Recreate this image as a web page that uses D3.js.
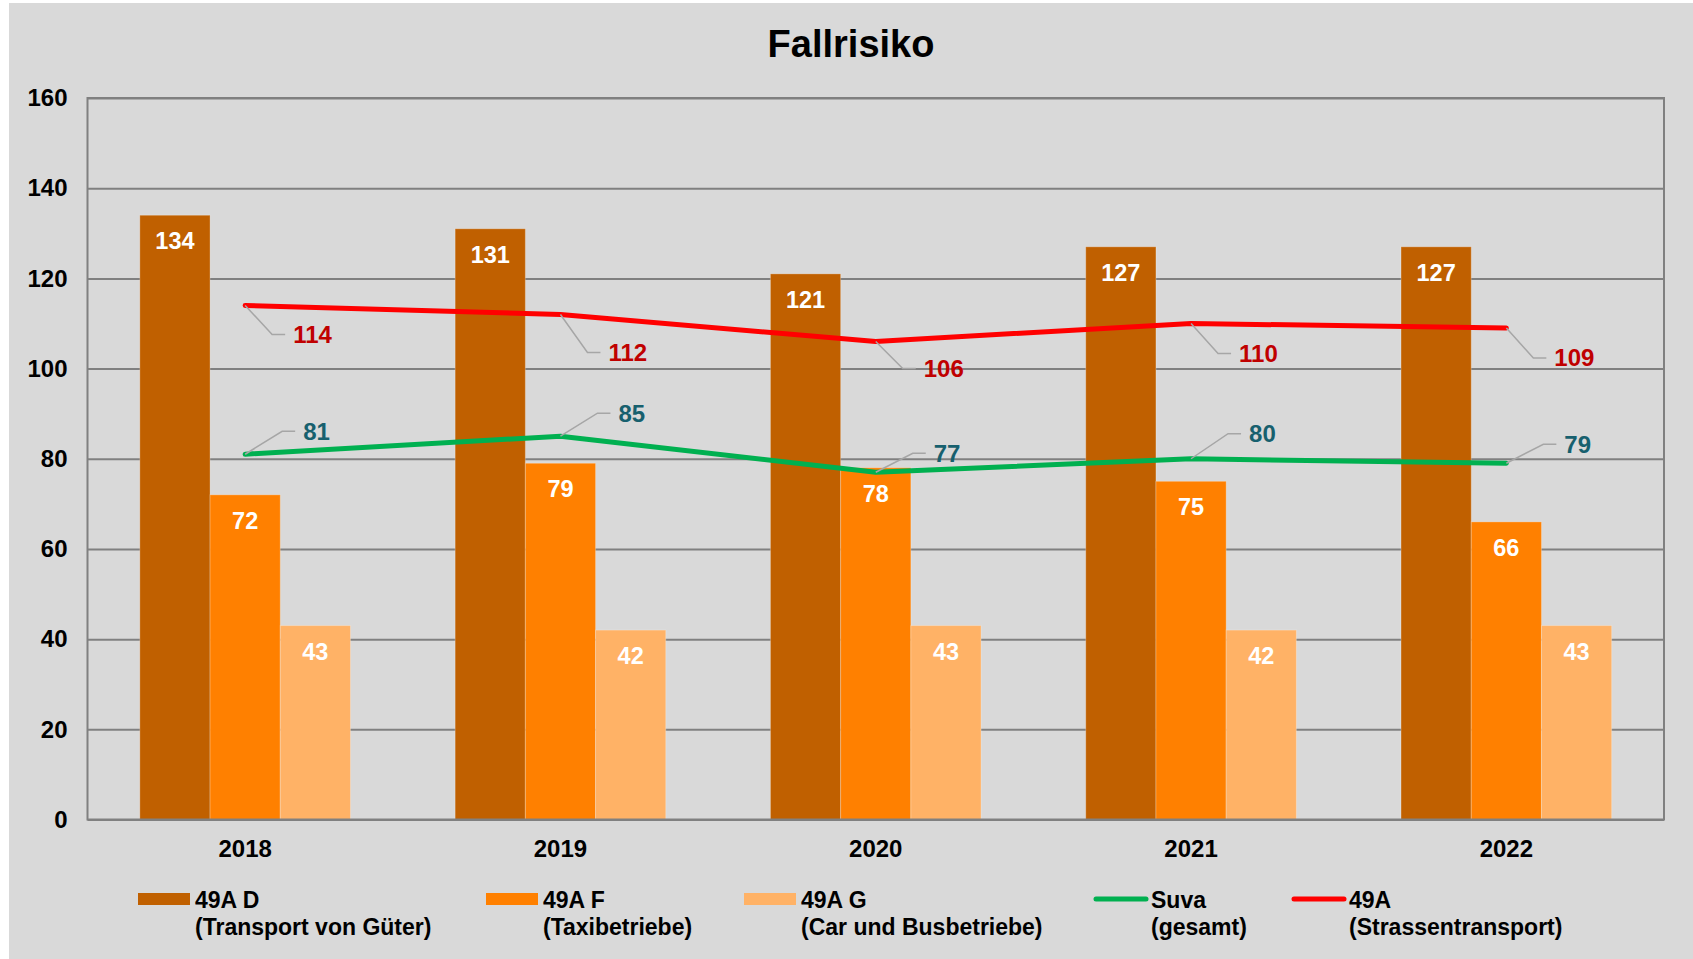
<!DOCTYPE html>
<html>
<head>
  <meta charset="utf-8">
  <title>Fallrisiko</title>
  <script src="https://cdn.jsdelivr.net/npm/d3@7"></script>
  <style>
    body { margin: 0; background: #ffffff; }
    svg { display: block; font-family: "Liberation Sans", Arial, sans-serif; font-weight: bold; }
  </style>
</head>
<body>
<script>
  // data
  var years = ["2018", "2019", "2020", "2021", "2022"];
  var barSeries = ["49A D", "49A F", "49A G"];
  var barSub = ["(Transport von Güter)", "(Taxibetriebe)", "(Car und Busbetriebe)"];
  var valD = [134, 131, 121, 127, 127];
  var valF = [72, 79, 78, 75, 66];
  var valG = [43, 42, 43, 42, 43];
  var suva = [81, 85, 77, 80, 79];
  var strasse = [114, 112, 106, 110, 109];
  var yTicks = [0, 20, 40, 60, 80, 100, 120, 140, 160];

  var width = 1693, height = 959;
  var margin = { top: 98, right: 29, bottom: 139.5, left: 87.5 };
  var barColors = ["#c06000", "#ff8000", "#ffb266"];

  var svg = d3.select("body").append("svg").attr("width", width).attr("height", height);

  // background
  svg.append("rect").attr("x", 9).attr("y", 3).attr("width", width - 9).attr("height", height - 3)
    .attr("fill", "#d9d9d9");

  svg.append("text").attr("x", 851).attr("y", 57).attr("text-anchor", "middle")
    .attr("font-size", "38px").attr("fill", "#000").text("Fallrisiko");

  var x0 = d3.scaleBand().domain(years)
    .range([margin.left, width - margin.right])
    .paddingInner(0.332).paddingOuter(0.166);
  var x1 = d3.scaleBand().domain([0, 1, 2]).range([0, x0.bandwidth()]);
  var y = d3.scaleLinear().domain([0, 160]).range([height - margin.bottom, margin.top]);

  // gridlines
  var yAxis = d3.axisLeft(y).tickValues(yTicks).tickSize(-(width - margin.left - margin.right)).tickPadding(20);
  var gy = svg.append("g").attr("transform", "translate(" + margin.left + ",0)").call(yAxis);
  gy.select(".domain").remove();
  gy.selectAll(".tick line").attr("stroke", "#808080").attr("stroke-width", 2);
  gy.selectAll(".tick text").attr("fill", "#000").attr("font-size", "24px").attr("font-family", "Liberation Sans, Arial, sans-serif");

  // bars
  var barData = [valD, valF, valG];
  barData.forEach(function(vals, s) {
    svg.append("g").selectAll("rect").data(vals).enter().append("rect")
      .attr("x", function(d, i) { return x0(years[i]) + x1(s); })
      .attr("y", function(d) { return y(d); })
      .attr("width", x1.bandwidth())
      .attr("height", function(d) { return y(0) - y(d); })
      .attr("fill", barColors[s])
      .attr("stroke", "rgba(255,255,255,0.25)").attr("stroke-width", 1);
    svg.append("g").selectAll("text").data(vals).enter().append("text")
      .attr("x", function(d, i) { return x0(years[i]) + x1(s) + x1.bandwidth() / 2; })
      .attr("y", function(d) { return y(d) + 34; })
      .attr("text-anchor", "middle").attr("font-size", "23.5px").attr("fill", "#fff")
      .text(function(d) { return d; });
  });

  // frame
  svg.append("rect").attr("x", margin.left).attr("y", margin.top)
    .attr("width", width - margin.left - margin.right).attr("height", height - margin.top - margin.bottom)
    .attr("fill", "none").attr("stroke", "#808080").attr("stroke-width", 2);

  // x axis labels
  var xAxis = d3.axisBottom(x0).tickSize(0).tickPadding(20);
  var gx = svg.append("g").attr("transform", "translate(0," + y(0) + ")").call(xAxis);
  gx.select(".domain").remove();
  gx.selectAll(".tick text").attr("fill", "#000").attr("font-size", "24px").attr("font-family", "Liberation Sans, Arial, sans-serif");

  // lines
  var cx = function(i) { return x0(years[i]) + x0.bandwidth() / 2; };
  var line = d3.line().x(function(d, i) { return cx(i); }).y(function(d) { return y(d); });

  var lineDefs = [
    { vals: strasse, color: "#ff0000", label: "#c00000", dy: [29, 38, 27, 30, 30], ex: 27 },
    { vals: suva, color: "#00b050", label: "#17606e", dy: [-23, -23, -19, -25, -19], ex: 37 }
  ];

  lineDefs.forEach(function(L) {
    svg.append("path").datum(L.vals).attr("d", line)
      .attr("fill", "none").attr("stroke", L.color).attr("stroke-width", 5)
      .attr("stroke-linecap", "round").attr("stroke-linejoin", "round");
  });

  lineDefs.forEach(function(L) {
    var g = svg.append("g");
    g.selectAll("path").data(L.vals).enter().append("path")
      .attr("d", function(d, i) {
        var px = cx(i), py = y(d), ty = py + L.dy[i];
        return "M" + px + "," + py + "L" + (px + L.ex) + "," + ty + "L" + (px + L.ex + 13) + "," + ty;
      })
      .attr("fill", "none").attr("stroke", "#a6a6a6").attr("stroke-width", 1.5);
    g.selectAll("text").data(L.vals).enter().append("text")
      .attr("x", function(d, i) { return cx(i) + L.ex + 21; })
      .attr("y", function(d, i) { return y(d) + L.dy[i] + 8.5; })
      .attr("font-size", "24px").attr("fill", L.label)
      .text(function(d) { return d; });
  });

  // legend
  var legendItems = [
    { type: "rect", color: barColors[0], t1: barSeries[0], t2: barSub[0], x: 138 },
    { type: "rect", color: barColors[1], t1: barSeries[1], t2: barSub[1], x: 486 },
    { type: "rect", color: barColors[2], t1: barSeries[2], t2: barSub[2], x: 744 },
    { type: "line", color: "#00b050", t1: "Suva", t2: "(gesamt)", x: 1094 },
    { type: "line", color: "#ff0000", t1: "49A", t2: "(Strassentransport)", x: 1292 }
  ];
  var lg = svg.append("g");
  legendItems.forEach(function(it) {
    if (it.type === "rect") {
      lg.append("rect").attr("x", it.x).attr("y", 893).attr("width", 52).attr("height", 12).attr("fill", it.color);
    } else {
      lg.append("line").attr("x1", it.x + 2).attr("x2", it.x + 52).attr("y1", 899).attr("y2", 899)
        .attr("stroke", it.color).attr("stroke-width", 5).attr("stroke-linecap", "round");
    }
    lg.append("text").attr("x", it.x + 57).attr("y", 908).attr("font-size", "23px").attr("fill", "#000").text(it.t1);
    lg.append("text").attr("x", it.x + 57).attr("y", 935).attr("font-size", "23px").attr("fill", "#000").text(it.t2);
  });
</script>
</body>
</html>
